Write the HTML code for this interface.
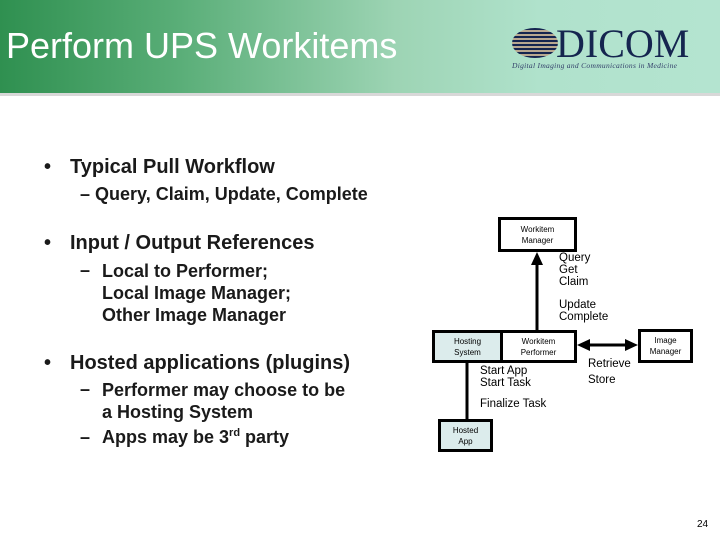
<!DOCTYPE html>
<html><head><style>
body{margin:0;width:720px;height:540px;position:relative;background:#fff;font-family:"Liberation Sans",sans-serif;overflow:hidden}
.hdr{position:absolute;left:0;top:0;width:720px;height:93px;background:linear-gradient(90deg,#2f9050 0%,#5aae78 25%,#9dd4b4 55%,#b0e2cc 75%,#b4e4d0 100%);border-bottom:3px solid #d8d8d8}
.t{position:absolute;white-space:nowrap}
.b{font-weight:bold;color:#1a1a1a}
.m{font-size:20px}
.sb{font-size:18px}
.box{position:absolute;border:3px solid #000;box-sizing:border-box;font-size:8px;text-align:center;line-height:11px;display:flex;align-items:center;justify-content:center}
.s{font-size:11.5px;line-height:12px}
</style></head><body>
<div class="hdr"></div>
<div class="t" style="left:6px;top:25px;font-size:36px;color:#fff">Perform UPS Workitems</div>
<div class="t" style="left:556px;top:20px;font-size:40px;font-family:'Liberation Serif',serif;color:#15254f;letter-spacing:0px">DICOM</div>
<div style="position:absolute;left:512px;top:28px;width:46px;height:30px;border-radius:50%;background:repeating-linear-gradient(0deg,#15254f 0 2px,#b8a890 2px 4px)"></div>
<div class="t" style="left:512px;top:61px;font-size:7.5px;font-style:italic;font-family:'Liberation Serif',serif;color:#33406a;letter-spacing:0.3px">Digital Imaging and Communications in Medicine</div>

<div class="t b m" style="left:44px;top:156px">•</div>
<div class="t b m" style="left:70px;top:156px">Typical Pull Workflow</div>
<div class="t b sb" style="left:80px;top:184px">– Query, Claim, Update, Complete</div>
<div class="t b m" style="left:44px;top:232px">•</div>
<div class="t b m" style="left:70px;top:232px">Input / Output References</div>
<div class="t b sb" style="left:80px;top:260px">–</div>
<div class="t b sb" style="left:102px;top:260px;line-height:22px">Local to Performer;<br>Local Image Manager;<br>Other Image Manager</div>
<div class="t b m" style="left:44px;top:352px">•</div>
<div class="t b m" style="left:70px;top:352px">Hosted applications (plugins)</div>
<div class="t b sb" style="left:80px;top:379px">–</div>
<div class="t b sb" style="left:102px;top:379px;line-height:22px">Performer may choose to be<br>a Hosting System</div>
<div class="t b sb" style="left:80px;top:427px">–</div>
<div class="t b sb" style="left:102px;top:427px">Apps may be 3<sup style="font-size:11px">rd</sup> party</div>

<svg style="position:absolute;left:0;top:0" width="720" height="540">
<line x1="537" y1="330" x2="537" y2="262" stroke="#000" stroke-width="3"/>
<polygon points="537,252 531,265 543,265" fill="#000"/>
<line x1="588" y1="345" x2="628" y2="345" stroke="#000" stroke-width="3"/>
<polygon points="577,345 590,339 590,351" fill="#000"/>
<polygon points="638,345 625,339 625,351" fill="#000"/>
<line x1="467" y1="362" x2="467" y2="420" stroke="#000" stroke-width="3"/>
</svg>
<div class="box" style="left:498px;top:217px;width:79px;height:35px;background:#fff">Workitem<br>Manager</div>
<div class="box" style="left:432px;top:330px;width:71px;height:33px;background:#dcecec">Hosting<br>System</div>
<div class="box" style="left:500px;top:330px;width:77px;height:33px;background:#fff">Workitem<br>Performer</div>
<div class="box" style="left:638px;top:329px;width:55px;height:34px;background:#fff">Image<br>Manager</div>
<div class="box" style="left:438px;top:419px;width:55px;height:33px;background:#dcecec">Hosted<br>App</div>

<div class="t s" style="left:559px;top:252px">Query<br>Get<br>Claim</div>
<div class="t s" style="left:559px;top:299px">Update<br>Complete</div>
<div class="t s" style="left:480px;top:365px">Start App<br>Start Task</div>
<div class="t s" style="left:480px;top:398px">Finalize Task</div>
<div class="t s" style="left:588px;top:356px;line-height:16px">Retrieve<br>Store</div>
<div class="t" style="left:697px;top:519px;font-size:10px">24</div>
</body></html>
